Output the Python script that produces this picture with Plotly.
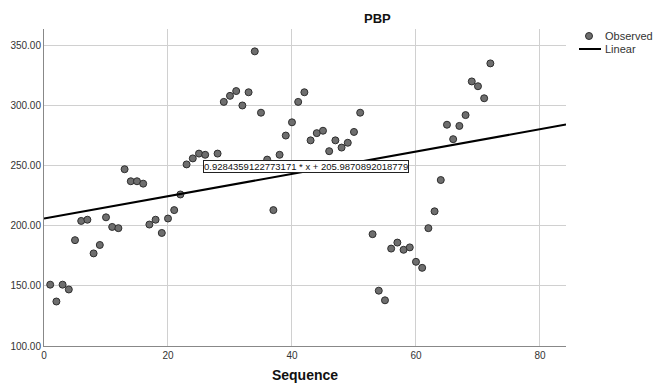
import plotly.graph_objects as go

# Data
seq = [1, 2, 3, 4, 5, 6, 7, 8, 9, 10, 11, 12, 13, 14, 15, 16, 17, 18, 19, 20,
       21, 22, 23, 24, 25, 26, 28, 29, 30, 31, 32, 33, 34, 35, 36, 37, 38, 39, 40,
       41, 42, 43, 44, 45, 46, 47, 48, 49, 50, 51, 53, 54, 55, 56, 57, 58, 59, 60,
       61, 62, 63, 64, 65, 66, 67, 68, 69, 70, 71, 72]
pbp = [151, 137, 151, 147, 188, 204, 205, 177, 184, 207, 199, 198, 247, 237, 237, 235, 201, 205, 194, 206,
       213, 226, 251, 256, 260, 259, 260, 303, 308, 312, 300, 311, 345, 294, 255, 213, 259, 275, 286,
       303, 311, 271, 277, 279, 262, 271, 265, 269, 278, 294, 193, 146, 138, 181, 186, 180, 182, 170,
       165, 198, 212, 238, 284, 272, 283, 292, 320, 316, 306, 335]
slope = 0.9284359122773171
intercept = 205.9870892018779
x_range = [0, 84.2]
y_range = [100, 363.6]
x_ticks = [0, 20, 40, 60, 80]
y_ticks = [100, 150, 200, 250, 300, 350]
legend_names = ["Observed", "Linear"]

fit_x = x_range
fit_y = [intercept + slope * v for v in fit_x]

W, H = 653, 383
ml, mr, mt, mb = 44, 87, 29, 37
pw, ph = W - ml - mr, H - mt - mb


def px(xp):
    return (xp - ml) / pw


def py(yp):
    return 1 - (yp - mt) / ph


FONT = "Liberation Sans, Arial"
MARKER_FILL = "#6e6e6e"
MARKER_EDGE = "#2e2e2e"

fig = go.Figure()
fig.add_trace(go.Scatter(
    x=seq, y=pbp, mode="markers", name=legend_names[0],
    marker=dict(size=7, color=MARKER_FILL, line=dict(color=MARKER_EDGE, width=1)),
))
fig.add_trace(go.Scatter(
    x=fit_x, y=fit_y, mode="lines", name=legend_names[1],
    line=dict(color="black", width=2),
))

# equation label
fig.add_annotation(
    x=(305.5 - ml) / pw * (x_range[1] - x_range[0]) + x_range[0],
    y=y_range[1] - (166 - mt) / ph * (y_range[1] - y_range[0]),
    xref="x", yref="y",
    text=f"{slope} * x + {intercept}",
    showarrow=False, bgcolor="white", bordercolor="#222", borderwidth=1, borderpad=0,
    font=dict(family=FONT, size=9.5, color="#111"),
)
# title
fig.add_annotation(
    x=px(377), y=py(18), xref="paper", yref="paper", text="<b>PBP</b>", showarrow=False,
    xanchor="center", yanchor="middle",
    font=dict(family=FONT, size=13, color="#111"),
)

# manual legend
fig.add_shape(type="circle", xref="paper", yref="paper",
              x0=px(585.5), x1=px(592.5), y0=py(32.5), y1=py(39.5),
              fillcolor=MARKER_FILL, line=dict(color=MARKER_EDGE, width=1))
fig.add_shape(type="line", xref="paper", yref="paper",
              x0=px(579), x1=px(601), y0=py(49), y1=py(49),
              line=dict(color="black", width=2))
for name, yp in zip(legend_names, [36, 49]):
    fig.add_annotation(x=px(603), y=py(yp), xref="paper", yref="paper", text=name,
                       showarrow=False, xanchor="left", yanchor="middle",
                       font=dict(family=FONT, size=11, color="#333"))

fig.update_layout(
    width=W, height=H,
    margin=dict(l=ml, r=mr, t=mt, b=mb, autoexpand=False),
    paper_bgcolor="white", plot_bgcolor="white",
    font=dict(family=FONT, size=10, color="#222"),
    showlegend=False,
    xaxis=dict(range=x_range, tickvals=x_ticks, showgrid=True, gridcolor="#d0d0d0",
               gridwidth=1, zeroline=False, showline=True, linecolor="#888", linewidth=1,
               ticks="", automargin=False, tickfont=dict(size=10, color="#333"),
               title=dict(text="<b>Sequence</b>", font=dict(size=14, color="#111"), standoff=11)),
    yaxis=dict(range=y_range, tickvals=y_ticks, tickformat=".2f", showgrid=True,
               gridcolor="#d0d0d0", gridwidth=1, zeroline=False, showline=True,
               linecolor="#888", linewidth=1, ticks="", automargin=False,
               tickfont=dict(size=10, color="#333")),
)

fig.write_html("out.html", config={"displayModeBar": False},
               post_script="document.body.style.margin='0';document.body.style.overflow='hidden';")
